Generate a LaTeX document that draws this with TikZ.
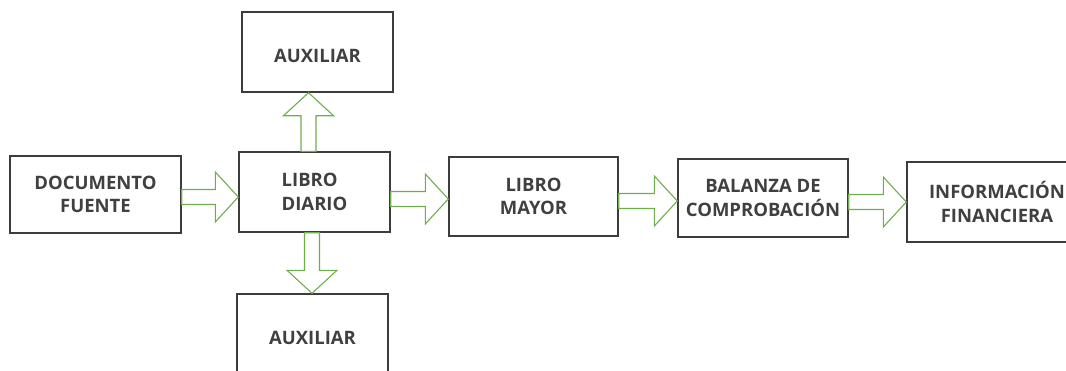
\documentclass[tikz,border=0pt]{standalone}
\usepackage{fontspec}
\setmainfont{Open Sans}
\usetikzlibrary{calc}
\definecolor{boxline}{HTML}{3C3C3C}
\definecolor{boxtext}{HTML}{404040}
\definecolor{arrowgreen}{HTML}{6FAE4E}
\tikzset{
  stage/.style={draw=boxline, line width=1.4pt, fill=white, text=boxtext,
    font=\fontsize{18.5}{23.3}\selectfont\bfseries, align=center, inner sep=0pt},
  flow/.style={draw=arrowgreen, line width=1.1pt, fill=white, line join=miter},
}
% text lowered inside its box without changing the box
\newcommand{\lowered}[1]{\raisebox{-4pt}[\height][\depth]{#1}}
% horizontal block arrow from #1 to #2, axis at height #3
\newcommand{\hflow}[3]{%
  \path[flow] let \p1=(#1), \p2=(#2) in
    (\x1,#3-7.5) -- (\x2-23pt,#3-7.5) -- (\x2-23pt,#3-25) -- (\x2,#3)
    -- (\x2-23pt,#3+25) -- (\x2-23pt,#3+7.5) -- (\x1,#3+7.5) -- cycle;}
% vertical block arrow from #1 to #2, axis at abscissa #3
\newcommand{\vflow}[3]{%
  \path[flow] let \p1=(#1), \p2=(#2), \n1={ifthenelse(\y2>\y1,1,-1)} in
    (#3pt-7.5pt,\y1) -- (#3pt-7.5pt,\y2-\n1*23pt) -- (#3pt-25pt,\y2-\n1*23pt) -- (#3pt,\y2)
    -- (#3pt+25pt,\y2-\n1*23pt) -- (#3pt+7.5pt,\y2-\n1*23pt) -- (#3pt+7.5pt,\y1) -- cycle;}
\begin{document}
\begin{tikzpicture}[x=1pt,y=-1pt]
\useasboundingbox (0,0) rectangle (1066,370);
\begin{scope}
\clip (0,0) rectangle (1066,370);
\node[stage, minimum width=171pt, minimum height=77pt] (fuente) at (95.5,194.5) {DOCUMENTO\\FUENTE};
\node[stage, minimum width=151pt, minimum height=80pt, align=left] (diario) at (314.5,192) {LIBRO\\DIARIO};
\node[stage, minimum width=151pt, minimum height=80pt] (auxtop) at (317.5,52) {\lowered{AUXILIAR}};
\node[stage, minimum width=151pt, minimum height=80pt] (auxbot) at (312.5,334) {\lowered{AUXILIAR}};
\node[stage, minimum width=169pt, minimum height=79pt] (mayor) at (533.5,196.5) {LIBRO\\MAYOR};
\node[stage, minimum width=170pt, minimum height=78pt] (balanza) at (763,198) {BALANZA DE\\COMPROBACIÓN};
\node[stage, minimum width=180pt, minimum height=80pt] (info) at (997,202) {INFORMACIÓN\\FINANCIERA};

\hflow{fuente.east}{diario.west}{197}
\hflow{diario.east}{mayor.west}{199}
\hflow{mayor.east}{balanza.west}{201}
\hflow{balanza.east}{info.west}{202}
\vflow{diario.north}{auxtop.south}{308.5}
\vflow{diario.south}{auxbot.north}{312}
\end{scope}
\end{tikzpicture}
\end{document}
